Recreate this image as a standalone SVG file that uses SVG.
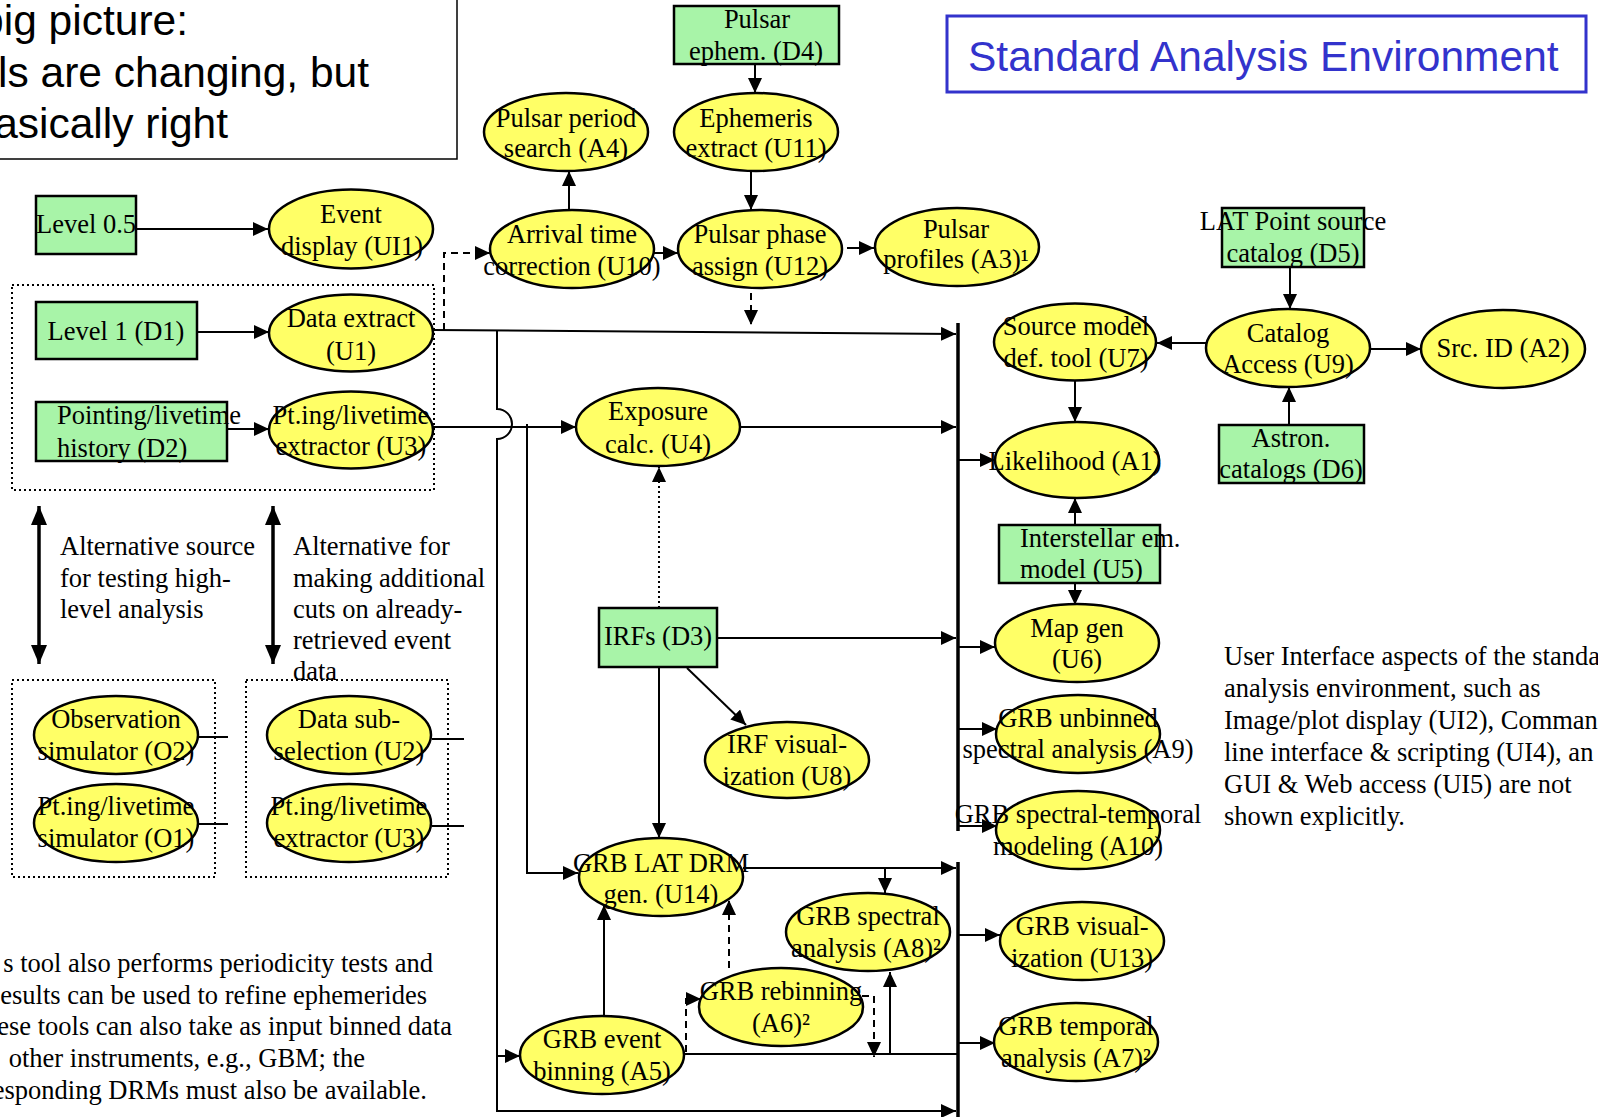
<svg xmlns="http://www.w3.org/2000/svg" width="1598" height="1117" viewBox="0 0 1598 1117">
<style>
.ell{fill:#ffff66;stroke:#000;stroke-width:2.5}
.box{fill:#a8f4a8;stroke:#000;stroke-width:2.5}
.t{font-family:"Liberation Serif","Times New Roman",serif;font-size:26.5px;fill:#000;text-anchor:middle}
.ts{font-family:"Liberation Serif","Times New Roman",serif;font-size:26.5px;fill:#000;text-anchor:start}
.te{font-family:"Liberation Serif","Times New Roman",serif;font-size:26.5px;fill:#000;text-anchor:end}
.big{font-family:"Liberation Sans",Arial,sans-serif;font-size:42.5px;fill:#000;text-anchor:end}
.c{stroke:#000;stroke-width:2;fill:none}
.a{marker-end:url(#ah)}
.dash{stroke-dasharray:7,5}
.dot{stroke-dasharray:2,3}
.bus{stroke:#000;stroke-width:3.5;fill:none}
.grp{fill:none;stroke:#000;stroke-width:2;stroke-dasharray:2,3}
</style>
<defs>
<marker id="ah" markerUnits="userSpaceOnUse" markerWidth="16" markerHeight="14" refX="15" refY="7" orient="auto">
<path d="M0,0 L15,7 L0,14 z" fill="#000"/>
</marker>
<marker id="dh" markerUnits="userSpaceOnUse" markerWidth="16" markerHeight="20" refX="19" refY="8" orient="auto-start-reverse">
<path d="M0,0 L19,8 L0,16 z" fill="#000"/>
</marker>
</defs>
<rect width="1598" height="1117" fill="#fff"/>

<g id="note-box">
<rect x="-5" y="-5" width="462" height="164" fill="#fff" stroke="#000" stroke-width="1.5"/>
<text class="big" x="188" y="35">big picture:</text>
<text class="big" x="369" y="87">ls are changing, but</text>
<text class="big" x="228" y="138">asically right</text>
</g>

<g id="title">
<rect x="947" y="16" width="639" height="76" fill="#fff" stroke="#3333cc" stroke-width="3"/>
<text x="968" y="71" font-family="Liberation Sans, Arial, sans-serif" font-size="42.5" fill="#3333cc">Standard Analysis Environment</text>
</g>

<g id="groups">
<rect class="grp" x="12" y="285" width="422" height="205"/>
<rect class="grp" x="12" y="680" width="203" height="197"/>
<rect class="grp" x="246" y="680" width="202" height="197"/>
</g>

<g id="connectors">
<path class="c a" d="M136,229 H268"/>
<path class="c a" d="M197,332 H269"/>
<path class="c a" d="M227,429 H269"/>
<path class="c a" d="M433,330 L956,334"/>
<path class="c a" d="M497,330.5 V409 A15,15 0 0 1 497,439 V1111 H956"/>
<path class="c a" d="M497,1056 H520"/>
<path class="c a" d="M433,427 H576"/>
<path class="c a" d="M527,424 V873 H578"/>
<path class="c a" d="M740,427 H956"/>
<path class="c a dot" d="M659,608 V467"/>
<path class="c a" d="M717,638 H956"/>
<path class="c a" d="M659,668 V838"/>
<path class="c a" d="M687,668 L746,725"/>
<path class="c a" d="M743,868 H956"/>
<path class="c a" d="M885,868 V893"/>
<path class="c a" d="M604,1016 V905"/>
<path class="c a dash" d="M729,968 V900"/>
<path class="c a dash" d="M686,1052 V999 H701"/>
<path class="c a dash" d="M862,996 H874 V1057"/>
<path class="c" d="M684,1054 H958"/>
<path class="c a" d="M890,1054 V972"/>
<path class="c a" d="M755,64 V93"/>
<path class="c a" d="M751,171 V210"/>
<path class="c a" d="M569,210 V171"/>
<path class="c a" d="M654,253 H678"/>
<path class="c a" d="M847,248 H874"/>
<path class="c a dash" d="M751,293 V325"/>
<path class="c a dash" d="M444,330 V253 H490"/>
<path class="bus" d="M958,323 V831"/>
<path class="bus" d="M958,862 V1117"/>
<path class="c a" d="M958,460 H995"/>
<path class="c a" d="M958,647 H995"/>
<path class="c a" d="M958,729 H997"/>
<path class="c a" d="M958,826 H997"/>
<path class="c a" d="M958,935 H1000"/>
<path class="c a" d="M958,1043 H995"/>
<path class="c a" d="M1290,267 V309"/>
<path class="c a" d="M1289,425 V387"/>
<path class="c a" d="M1206,343 H1157"/>
<path class="c a" d="M1370,349 H1421"/>
<path class="c a" d="M1075,380 V422"/>
<path class="c a" d="M1075,525 V498"/>
<path class="c a" d="M1075,583 V605"/>
<path d="M39,506 V664" stroke="#000" stroke-width="3.5" marker-start="url(#dh)" marker-end="url(#dh)"/>
<path d="M273,506 V664" stroke="#000" stroke-width="3.5" marker-start="url(#dh)" marker-end="url(#dh)"/>
<path class="c" d="M198,737 H228"/>
<path class="c" d="M198,824 H228"/>
<path class="c" d="M432,739 H464"/>
<path class="c" d="M432,826 H464"/>
</g>

<g id="level05"><rect class="box" x="36" y="196" width="100" height="58"/><text class="t" x="86" y="233">Level 0.5</text></g>
<g id="ui1"><ellipse class="ell" cx="351" cy="229" rx="82" ry="39.5"/><text class="t"><tspan x="351" y="223">Event</tspan><tspan x="352" y="255">display (UI1)</tspan></text></g>
<g id="d1"><rect class="box" x="36" y="302" width="161" height="57"/><text class="t" x="116" y="340">Level 1 (D1)</text></g>
<g id="u1"><ellipse class="ell" cx="351" cy="333" rx="82" ry="38.5"/><text class="t"><tspan x="351" y="327">Data extract</tspan><tspan x="351" y="360">(U1)</tspan></text></g>
<g id="d2"><rect class="box" x="36" y="402" width="191" height="59"/><text class="ts"><tspan x="57" y="424">Pointing/livetime</tspan><tspan x="57" y="457">history (D2)</tspan></text></g>
<g id="u3"><ellipse class="ell" cx="351" cy="430" rx="82" ry="38.5"/><text class="t"><tspan x="351" y="424">Pt.ing/livetime</tspan><tspan x="351" y="455">extractor (U3)</tspan></text></g>

<g id="alt-notes">
<text class="ts"><tspan x="60" y="555">Alternative source</tspan><tspan x="60" y="587">for testing high-</tspan><tspan x="60" y="618">level analysis</tspan></text>
<text class="ts"><tspan x="293" y="555">Alternative for</tspan><tspan x="293" y="587">making additional</tspan><tspan x="293" y="618">cuts on already-</tspan><tspan x="293" y="649">retrieved event</tspan><tspan x="293" y="680">data</tspan></text>
</g>

<g id="o2"><ellipse class="ell" cx="116" cy="735" rx="82" ry="39"/><text class="t"><tspan x="116" y="728">Observation</tspan><tspan x="116" y="760">simulator (O2)</tspan></text></g>
<g id="o1"><ellipse class="ell" cx="116" cy="823" rx="82" ry="39"/><text class="t"><tspan x="116" y="815">Pt.ing/livetime</tspan><tspan x="116" y="847">simulator (O1)</tspan></text></g>
<g id="u2"><ellipse class="ell" cx="349" cy="735" rx="82" ry="39"/><text class="t"><tspan x="349" y="728">Data sub-</tspan><tspan x="349" y="760">selection (U2)</tspan></text></g>
<g id="u3b"><ellipse class="ell" cx="349" cy="823" rx="82" ry="39"/><text class="t"><tspan x="349" y="815">Pt.ing/livetime</tspan><tspan x="349" y="847">extractor (U3)</tspan></text></g>

<g id="footnotes">
<text class="te" x="433" y="972">s tool also performs periodicity tests and</text>
<text class="te" x="427" y="1004">esults can be used to refine ephemerides</text>
<text class="te" x="452" y="1035">ese tools can also take as input binned data</text>
<text class="te" x="365" y="1067">other instruments, e.g., GBM; the</text>
<text class="te" x="427" y="1099">esponding DRMs must also be available.</text>
</g>

<g id="d4"><rect class="box" x="674" y="6" width="165" height="58"/><text class="t"><tspan x="757" y="28">Pulsar</tspan><tspan x="756" y="60">ephem. (D4)</tspan></text></g>
<g id="a4"><ellipse class="ell" cx="566" cy="132" rx="82" ry="39"/><text class="t"><tspan x="566" y="127">Pulsar period</tspan><tspan x="566" y="157">search (A4)</tspan></text></g>
<g id="u11"><ellipse class="ell" cx="756" cy="132" rx="82" ry="39"/><text class="t"><tspan x="756" y="127">Ephemeris</tspan><tspan x="756" y="157">extract (U11)</tspan></text></g>
<g id="u10"><ellipse class="ell" cx="572" cy="249" rx="82" ry="39"/><text class="t"><tspan x="572" y="243">Arrival time</tspan><tspan x="572" y="275">correction (U10)</tspan></text></g>
<g id="u12"><ellipse class="ell" cx="760" cy="249" rx="82" ry="39"/><text class="t"><tspan x="760" y="243">Pulsar phase</tspan><tspan x="760" y="275">assign (U12)</tspan></text></g>
<g id="a3"><ellipse class="ell" cx="957" cy="247" rx="82" ry="39"/><text class="t"><tspan x="956" y="238">Pulsar</tspan><tspan x="956" y="268">profiles (A3)¹</tspan></text></g>

<g id="u4"><ellipse class="ell" cx="658" cy="427" rx="82" ry="39"/><text class="t"><tspan x="658" y="420">Exposure</tspan><tspan x="658" y="453">calc. (U4)</tspan></text></g>
<g id="d3"><rect class="box" x="599" y="608" width="118" height="59"/><text class="t" x="658" y="645">IRFs (D3)</text></g>
<g id="u8"><ellipse class="ell" cx="787" cy="760" rx="82" ry="38"/><text class="t"><tspan x="787" y="753">IRF visual-</tspan><tspan x="787" y="785">ization (U8)</tspan></text></g>
<g id="u14"><ellipse class="ell" cx="661" cy="877" rx="82" ry="39"/><text class="t"><tspan x="661" y="872">GRB LAT DRM</tspan><tspan x="661" y="903">gen. (U14)</tspan></text></g>
<g id="a8"><ellipse class="ell" cx="868" cy="932" rx="82" ry="39"/><text class="t"><tspan x="868" y="925">GRB spectral</tspan><tspan x="866" y="957">analysis (A8)²</tspan></text></g>
<g id="a6"><ellipse class="ell" cx="781" cy="1007" rx="82" ry="39"/><text class="t"><tspan x="781" y="1000">GRB rebinning</tspan><tspan x="781" y="1032">(A6)²</tspan></text></g>
<g id="a5"><ellipse class="ell" cx="602" cy="1055" rx="82" ry="39"/><text class="t"><tspan x="602" y="1048">GRB event</tspan><tspan x="602" y="1080">binning (A5)</tspan></text></g>

<g id="d5"><rect class="box" x="1222" y="208" width="142" height="59"/><text class="t"><tspan x="1293" y="230">LAT Point source</tspan><tspan x="1293" y="262">catalog (D5)</tspan></text></g>
<g id="u7"><ellipse class="ell" cx="1075" cy="342" rx="81" ry="38.5"/><text class="t"><tspan x="1076" y="335">Source model</tspan><tspan x="1076" y="367">def. tool (U7)</tspan></text></g>
<g id="u9"><ellipse class="ell" cx="1288" cy="348" rx="82" ry="39"/><text class="t"><tspan x="1288" y="342">Catalog</tspan><tspan x="1288" y="373">Access (U9)</tspan></text></g>
<g id="a2"><ellipse class="ell" cx="1503" cy="349" rx="82" ry="39"/><text class="t" x="1503" y="357">Src. ID (A2)</text></g>
<g id="d6"><rect class="box" x="1219" y="425" width="145" height="58"/><text class="t"><tspan x="1291" y="447">Astron.</tspan><tspan x="1291" y="478">catalogs (D6)</tspan></text></g>
<g id="a1"><ellipse class="ell" cx="1077" cy="460" rx="82" ry="38"/><text class="t" x="1075" y="470">Likelihood (A1)</text></g>
<g id="u5"><rect class="box" x="999" y="525" width="161" height="58"/><text class="ts"><tspan x="1020" y="547">Interstellar em.</tspan><tspan x="1020" y="578">model (U5)</tspan></text></g>
<g id="u6"><ellipse class="ell" cx="1077" cy="643" rx="82" ry="39"/><text class="t"><tspan x="1077" y="637">Map gen</tspan><tspan x="1077" y="668">(U6)</tspan></text></g>
<g id="a9"><ellipse class="ell" cx="1078" cy="734" rx="82" ry="39"/><text class="t"><tspan x="1078" y="727">GRB unbinned</tspan><tspan x="1078" y="758">spectral analysis (A9)</tspan></text></g>
<g id="a10"><ellipse class="ell" cx="1078" cy="830" rx="82" ry="39"/><text class="t"><tspan x="1078" y="823">GRB spectral-temporal</tspan><tspan x="1078" y="855">modeling (A10)</tspan></text></g>
<g id="u13"><ellipse class="ell" cx="1082" cy="941" rx="82" ry="39"/><text class="t"><tspan x="1082" y="935">GRB visual-</tspan><tspan x="1082" y="967">ization (U13)</tspan></text></g>
<g id="a7"><ellipse class="ell" cx="1076" cy="1042" rx="82" ry="39"/><text class="t"><tspan x="1076" y="1035">GRB temporal</tspan><tspan x="1076" y="1067">analysis (A7)²</tspan></text></g>

<g id="ui-note">
<text class="ts"><tspan x="1224" y="665">User Interface aspects of the standa</tspan><tspan x="1224" y="697">analysis environment, such as</tspan><tspan x="1224" y="729">Image/plot display (UI2), Comman</tspan><tspan x="1224" y="761">line interface &amp; scripting (UI4), an</tspan><tspan x="1224" y="793">GUI &amp; Web access (UI5) are not</tspan><tspan x="1224" y="825">shown explicitly.</tspan></text>
</g>
</svg>
